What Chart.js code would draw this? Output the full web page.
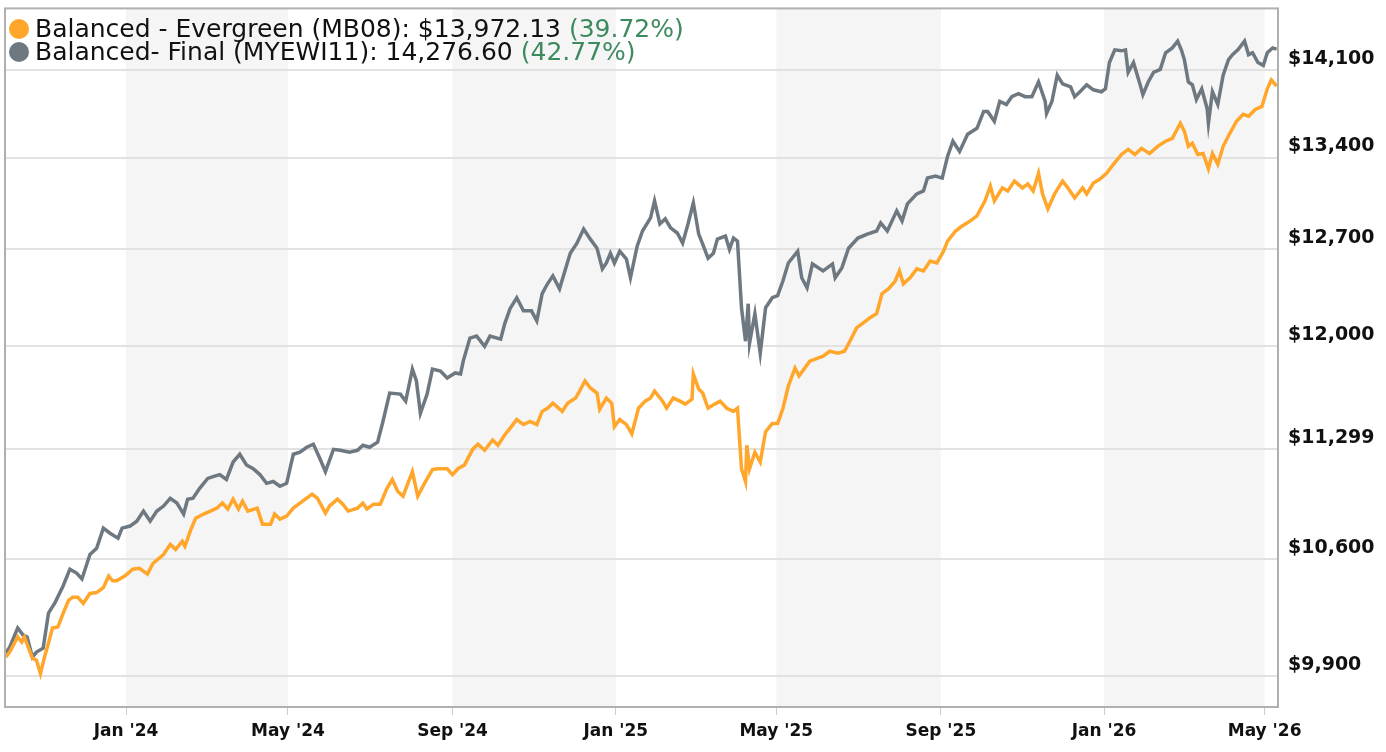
<!DOCTYPE html>
<html><head><meta charset="utf-8">
<script src="https://cdn.jsdelivr.net/npm/chart.js@4"></script>
<style>
html,body{margin:0;padding:0;background:#fff;overflow:hidden;}
#wrap{position:relative;width:1386px;height:752px;overflow:hidden;}
#c{position:absolute;left:0;top:-13px;}
#legend{position:absolute;left:9px;top:17px;font-family:"DejaVu Sans",sans-serif;font-size:25px;line-height:23px;color:#111;}
#legend .row{display:flex;align-items:center;white-space:nowrap;height:23px;}
#legend .dot{width:20px;height:20px;border-radius:50%;margin-right:6px;display:inline-block;}
#legend .pct{color:#3d8a5e;}
</style></head>
<body><div id="wrap"><canvas id="c" width="1386" height="765"></canvas>
<div id="legend"></div></div>
<script>
// Days since 2024-01-01 and values
const grayDays=[-90,-87,-81,-77,-74,-70,-67,-62,-58,-53,-47,-42,-37,-33,-27,-22,-17,-12,-6,-3,3,8,13,18,23,28,33,38,43,46,50,55,61,65,70,75,80,85,90,95,100,105,110,115,120,125,130,135,140,145,149,155,160,167,173,177,182,188,192,197,205,209,214,217,220,225,229,235,240,246,250,252,257,262,268,272,280,283,287,292,297,303,307,311,315,319,324,328,332,337,342,347,352,356,359,362,365,369,374,377,382,386,392,395,399,403,407,412,416,420,424,428,431,435,439,442,448,451,454,457,460,463,465,466,470,474,478,483,487,491,495,502,505,509,513,521,528,530,535,540,547,554,561,564,569,576,580,584,591,596,599,605,610,614,618,623,629,636,641,644,649,653,658,662,667,672,677,682,687,688,692,696,700,706,709,713,718,723,729,732,735,739,744,747,749,753,758,760,764,768,773,777,782,786,789,791,794,797,800,804,808,809,812,816,820,824,827,831,836,839,842,846,850,853,857,860];
const grayValues=[10031,10066,10179,10137,10126,10007,10037,10060,10268,10333,10434,10535,10511,10475,10626,10664,10791,10759,10728,10791,10804,10835,10899,10835,10899,10931,10981,10950,10880,10975,10981,11045,11109,11121,11134,11102,11216,11267,11197,11172,11134,11077,11089,11058,11077,11267,11280,11313,11333,11236,11153,11299,11293,11280,11293,11326,11313,11347,11485,11677,11670,11622,11842,11760,11540,11670,11842,11828,11780,11815,11808,11897,12058,12072,12000,12072,12051,12159,12267,12346,12252,12252,12180,12375,12447,12505,12411,12541,12671,12746,12852,12776,12708,12556,12599,12671,12599,12686,12628,12491,12723,12837,12936,13065,12890,12928,12860,12822,12746,12890,13050,12814,12738,12635,12671,12776,12799,12700,12784,12761,12274,12036,12303,12022,12231,11952,12274,12346,12361,12469,12599,12686,12491,12418,12592,12541,12592,12491,12563,12708,12784,12814,12837,12898,12837,12989,12913,13042,13118,13141,13240,13255,13240,13408,13528,13448,13583,13631,13766,13766,13687,13846,13822,13885,13909,13885,13885,14005,13846,13750,13846,14060,13989,13965,13885,13925,13981,13941,13925,13949,14165,14270,14262,14270,14084,14165,13981,13901,14005,14084,14108,14246,14286,14343,14262,14189,14005,13981,13862,13949,13790,13671,13925,13822,14060,14189,14230,14270,14343,14230,14246,14165,14141,14246,14286,14276.6];
const orangeDays=[-90,-87,-81,-78,-76,-70,-67,-64,-61,-58,-55,-51,-47,-43,-40,-36,-32,-27,-22,-17,-13,-10,-7,-1,5,10,16,20,28,33,37,42,44,48,52,58,63,68,72,76,80,84,87,91,98,102,108,111,115,120,125,132,139,143,149,152,158,162,166,173,177,180,185,190,195,199,203,207,214,218,223,229,233,240,244,248,253,259,263,268,274,278,283,288,292,297,302,307,311,315,319,326,330,336,339,343,347,352,354,359,363,365,369,374,378,383,388,392,395,401,404,409,414,418,423,424,428,431,435,440,444,449,454,457,460,463,464,466,470,474,478,483,487,491,495,500,503,511,521,526,532,537,541,546,551,556,561,565,570,575,578,581,586,591,596,601,606,611,614,620,625,631,636,642,646,649,655,659,664,670,674,678,682,685,689,694,700,704,709,715,718,723,728,733,738,744,749,754,759,765,771,777,782,786,788,791,794,797,801,805,809,812,816,820,825,830,835,839,844,849,853,856,860];
const orangeValues=[10007,10037,10126,10096,10126,10001,9989,9912,10007,10090,10179,10185,10268,10345,10363,10363,10327,10387,10392,10422,10493,10464,10464,10493,10535,10541,10505,10570,10626,10689,10658,10708,10677,10772,10854,10880,10899,10918,10950,10912,10975,10912,10962,10899,10918,10816,10816,10880,10848,10867,10918,10962,11007,10981,10886,10931,10975,10943,10899,10918,10950,10912,10943,10943,11045,11102,11026,10994,11153,10994,11077,11166,11172,11172,11134,11172,11197,11299,11333,11293,11361,11326,11395,11450,11498,11464,11485,11464,11553,11574,11608,11553,11608,11643,11691,11760,11712,11677,11567,11643,11608,11450,11498,11464,11402,11574,11622,11643,11691,11622,11574,11643,11622,11602,11636,11808,11705,11677,11574,11602,11622,11574,11553,11574,11172,11089,11326,11172,11280,11216,11416,11471,11471,11574,11725,11849,11794,11897,11931,11966,11952,11966,12036,12130,12166,12202,12231,12375,12411,12469,12541,12447,12491,12556,12541,12613,12599,12686,12761,12837,12875,12913,12951,13065,13179,13065,13164,13141,13217,13164,13194,13141,13278,13118,13004,13118,13217,13164,13088,13164,13118,13202,13232,13278,13347,13424,13464,13424,13472,13432,13488,13528,13551,13631,13671,13607,13488,13512,13424,13432,13313,13432,13347,13488,13591,13687,13742,13727,13782,13806,13949,14021,13972.13];
const yTicks=[9900,10600,11299,12000,12700,13400,14100];
const xTickDays=[0,121,244,366,486,609,731,851];
const xTickLabels=["Jan '24","May '24","Sep '24","Jan '25","May '25","Sep '25","Jan '26","May '26"];
const bands=[[0,121],[244,366],[486,609],[731,851]];
const legendItems=[
 {name:"Balanced - Evergreen (MB08): $13,972.13 ",pct:"(39.72%)",color:"#ffa62b"},
 {name:"Balanced- Final (MYEWI11): 14,276.60 ",pct:"(42.77%)",color:"#6e7880"}];

document.getElementById('legend').innerHTML=legendItems.map(l=>
 `<div class="row"><span class="dot" style="background:${l.color}"></span>${l.name.replace(/ $/,'&nbsp;')}<span class="pct">${l.pct}</span></div>`).join('');

const bgBands={id:'bgBands',beforeDraw(ch){const {ctx,chartArea:a,scales:{x}}=ch;ctx.save();ctx.fillStyle='#f5f5f5';
 bands.forEach(b=>{const x0=x.getPixelForValue(b[0]),x1=x.getPixelForValue(b[1]);ctx.fillRect(x0,a.top,x1-x0,a.bottom-a.top);});ctx.restore();}};
const frame={id:'frame',afterDatasetsDraw(ch){const {ctx,chartArea:a}=ch;ctx.save();ctx.strokeStyle='#b0b0b0';ctx.lineWidth=2;ctx.strokeRect(a.left,a.top,a.right-a.left,a.bottom-a.top);ctx.restore();}};

new Chart(document.getElementById('c'),{
 type:'line',
 data:{datasets:[
  {data:orangeDays.map((d,i)=>({x:d,y:orangeValues[i]})),borderColor:'#ffa62b',borderWidth:3.5,pointRadius:0,tension:0},
  {data:grayDays.map((d,i)=>({x:d,y:grayValues[i]})),borderColor:'#6e7880',borderWidth:3.5,pointRadius:0,tension:0}]},
 options:{responsive:false,animation:false,
  layout:{padding:{left:5,top:0,right:0,bottom:0}},
  plugins:{legend:{display:false},tooltip:{enabled:false}},
  scales:{
   x:{type:'linear',min:-90.5,max:861,
    afterBuildTicks(s){s.ticks=xTickDays.map(v=>({value:v}));},
    afterFit(s){s.height=45;},
    ticks:{autoSkip:false,maxRotation:0,padding:6,color:'#111',font:{family:'DejaVu Sans',size:17,weight:'bold'},
      callback:(v)=>xTickLabels[xTickDays.indexOf(v)]},
    grid:{drawOnChartArea:false,drawTicks:true,tickLength:8,color:'#c8ccd4'},border:{display:false}},
   y:{type:'logarithmic',position:'right',min:9720,max:14620,
    afterBuildTicks(s){s.ticks=yTicks.map(v=>({value:v}));},
    afterFit(s){s.width=108;},
    ticks:{padding:10,labelOffset:-11,color:'#111',font:{family:'DejaVu Sans',size:19,weight:'bold'},
      callback:(v)=>'$'+Number(v).toLocaleString('en-US')},
    grid:{color:'#e2e2e2',lineWidth:2,drawTicks:false},border:{display:false}}
  }},
 plugins:[bgBands,frame]
});
</script></body></html>
